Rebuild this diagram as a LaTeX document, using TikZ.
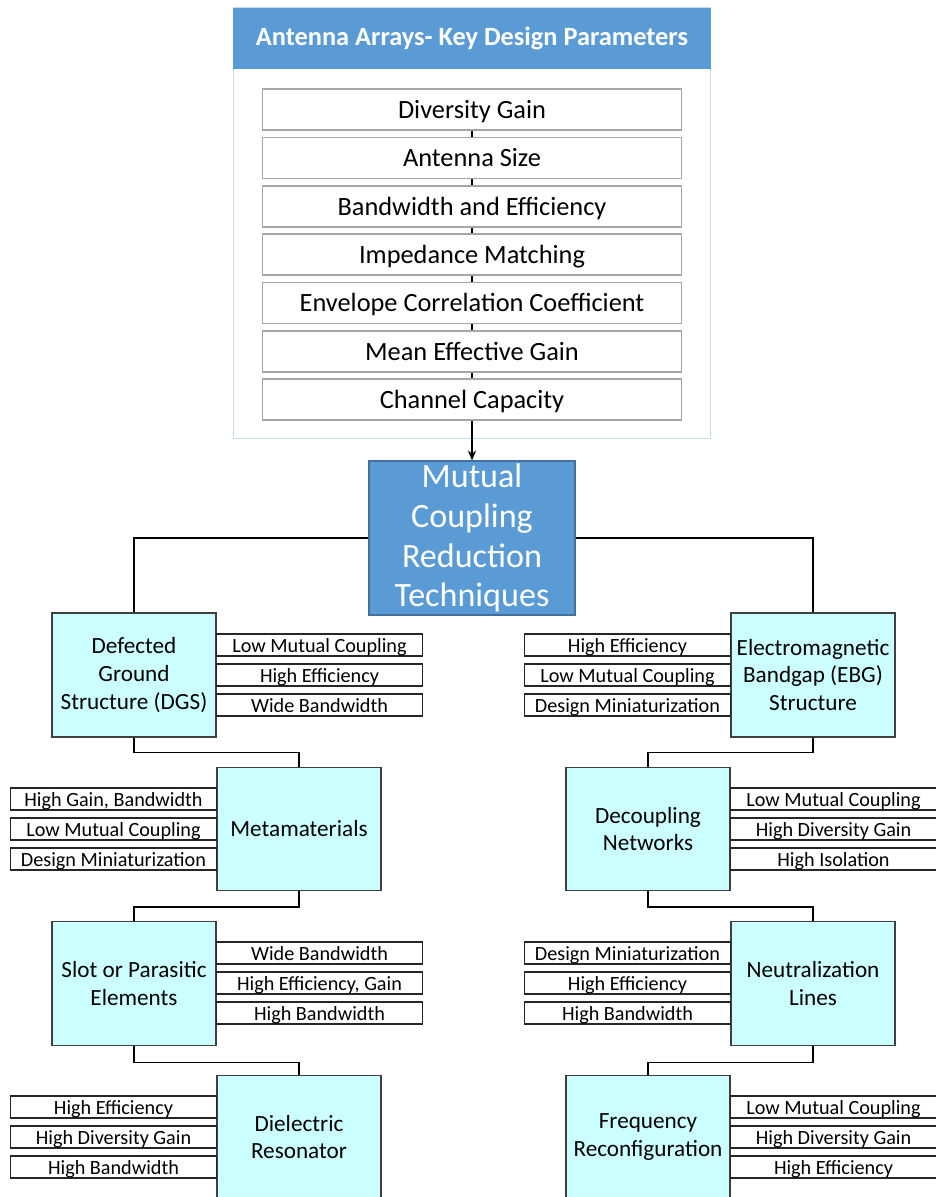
\documentclass[tikz,border=0pt]{standalone}
\usepackage{fontspec}
\setmainfont{Carlito}
\usetikzlibrary{arrows.meta}
\definecolor{hdrblue}{HTML}{5B9BD5}
\definecolor{hdredge}{HTML}{41719C}
\definecolor{panedge}{HTML}{C5DCF0}
\definecolor{techfill}{HTML}{CCFFFF}
\begin{document}
\begin{tikzpicture}[x=0.02cm,y=-0.02cm,>={Stealth[length=2mm,width=1.6mm]},line width=0.6pt,
  every node/.style={inner sep=0pt},
  param/.style={draw=black!35,fill=white,minimum width=8.4cm,minimum height=0.82cm,text height=12pt,text depth=2pt,font=\fontsize{15}{18}\selectfont},
  tech/.style={draw=black!75,fill=techfill,align=center,minimum width=3.28cm,minimum height=2.46cm,font=\fontsize{13.2}{15.9}\selectfont},
  prop/.style={draw=black!85,fill=white,minimum width=4.12cm,minimum height=0.44cm,text height=9.5pt,text depth=1.5pt,font=\fontsize{11.5}{13}\selectfont}]
\useasboundingbox (0,0) rectangle (936,1197);
\clip (0,0) rectangle (936,1197);

% key design parameters panel
\node[draw=panedge,fill=white,minimum width=9.56cm,minimum height=8.64cm] (panel) at (472,223) {};
\node[fill=hdrblue,minimum width=9.56cm,minimum height=1.22cm,text=white,font=\fontsize{15}{18}\selectfont\bfseries] (hdr) at (472,38.5) {Antenna Arrays- Key Design Parameters};
\node[param] (p1) at (472,109.5) {Diversity Gain};
\node[param] (p2) at (472,158) {Antenna Size};
\node[param] (p3) at (472,206.5) {Bandwidth and Efficiency};
\node[param] (p4) at (472,254.5) {Impedance Matching};
\node[param] (p5) at (472,303) {Envelope Correlation Coefficient};
\node[param] (p6) at (472,351.5) {Mean Effective Gain};
\node[param] (p7) at (472,399.5) {Channel Capacity};
\draw (p1)--(p2);\draw (p2)--(p3);\draw (p3)--(p4);\draw (p4)--(p5);\draw (p5)--(p6);\draw (p6)--(p7);

% reduction techniques
\node[fill=hdrblue,draw=hdredge,align=center,minimum width=4.12cm,minimum height=3.08cm,text=white,font=\fontsize{19.4}{22.7}\selectfont] (mc) at (472,538) {Mutual\\Coupling\\Reduction\\Techniques};
\draw[->] (p7)--(mc);

\node[tech,minimum height=2.48cm] (dgs) at (134,675) {Defected\\Ground\\Structure (DGS)};
\node[tech] (meta) at (299,829) {Metamaterials};
\node[tech,minimum height=2.48cm] (slot) at (134,983.5) {Slot or Parasitic\\Elements};
\node[tech] (dr) at (299,1137) {Dielectric\\Resonator};
\node[tech,minimum height=2.48cm] (ebg) at (813,675) {Electromagnetic\\Bandgap (EBG)\\Structure};
\node[tech] (dec) at (648,829) {Decoupling\\Networks};
\node[tech,minimum height=2.48cm] (nl) at (813,983.5) {Neutralization\\Lines};
\node[tech] (fr) at (648,1137) {Frequency\\Reconfiguration};

\draw (mc.west) -| (dgs.north);
\draw (mc.east) -| (ebg.north);
\draw (dgs.south) -- ++(0,15) -| (meta.north);
\draw (meta.south) -- ++(0,16) -| (slot.north);
\draw (slot.south) -- ++(0,16) -| (dr.north);
\draw (ebg.south) -- ++(0,15) -| (dec.north);
\draw (dec.south) -- ++(0,16) -| (nl.north);
\draw (nl.south) -- ++(0,16) -| (fr.north);

% merits of each technique
\node[prop,anchor=west] (dgs1) at (216,645) {Low Mutual Coupling};
\node[prop,anchor=west] (dgs2) at (216,675) {High Efficiency};
\node[prop,anchor=west] (dgs3) at (216,705) {Wide Bandwidth};
\node[prop,anchor=east] (meta1) at (217,799) {High Gain, Bandwidth};
\node[prop,anchor=east] (meta2) at (217,829) {Low Mutual Coupling};
\node[prop,anchor=east] (meta3) at (217,859) {Design Miniaturization};
\node[prop,anchor=west] (slot1) at (216,953) {Wide Bandwidth};
\node[prop,anchor=west] (slot2) at (216,983) {High Efficiency, Gain};
\node[prop,anchor=west] (slot3) at (216,1013) {High Bandwidth};
\node[prop,anchor=east] (dr1) at (217,1107) {High Efficiency};
\node[prop,anchor=east] (dr2) at (217,1137) {High Diversity Gain};
\node[prop,anchor=east] (dr3) at (217,1167) {High Bandwidth};
\node[prop,anchor=east] (ebg1) at (731,645) {High Efficiency};
\node[prop,anchor=east] (ebg2) at (731,675) {Low Mutual Coupling};
\node[prop,anchor=east] (ebg3) at (731,705) {Design Miniaturization};
\node[prop,anchor=west] (dec1) at (730,799) {Low Mutual Coupling};
\node[prop,anchor=west] (dec2) at (730,829) {High Diversity Gain};
\node[prop,anchor=west] (dec3) at (730,859) {High Isolation};
\node[prop,anchor=east] (nl1) at (731,953) {Design Miniaturization};
\node[prop,anchor=east] (nl2) at (731,983) {High Efficiency};
\node[prop,anchor=east] (nl3) at (731,1013) {High Bandwidth};
\node[prop,anchor=west] (fr1) at (730,1107) {Low Mutual Coupling};
\node[prop,anchor=west] (fr2) at (730,1137) {High Diversity Gain};
\node[prop,anchor=west] (fr3) at (730,1167) {High Efficiency};
\end{tikzpicture}
\end{document}
